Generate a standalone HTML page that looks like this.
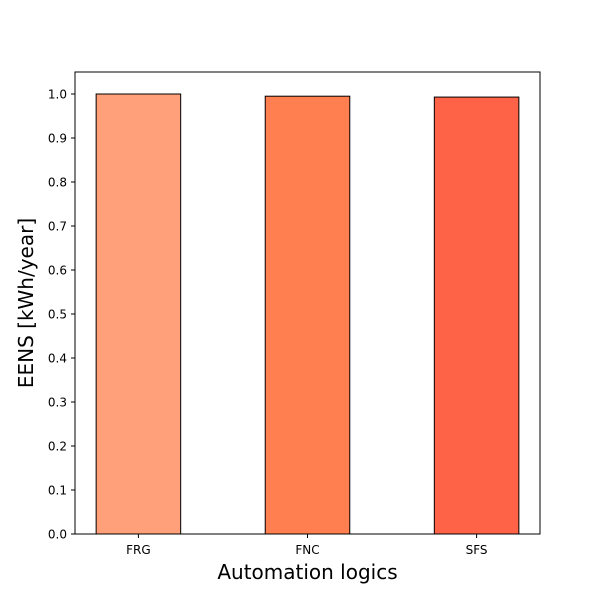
<!DOCTYPE html>
<html><head><meta charset="utf-8"><style>
html,body{margin:0;padding:0;background:#fff;}
svg{display:block;font-family:"DejaVu Sans","Liberation Sans",sans-serif;}
</style></head><body>
<svg id="chart" width="600" height="600" viewBox="0 0 600 600">
<rect x="0" y="0" width="600" height="600" fill="#fff"/>
<g id="bars"></g>
<g id="yticks"></g>
<g id="xticks"></g>
<rect x="75" y="72" width="465" height="462" fill="none" stroke="#000" stroke-width="1"/>
<text x="307.5" y="579" font-size="20" text-anchor="middle">Automation logics</text>
<text transform="translate(33,303) rotate(-90)" font-size="20" text-anchor="middle">EENS [kWh/year]</text>
</svg>
<script>
const categories = ["FRG", "FNC", "SFS"];
const values = [1.0, 0.995, 0.993];
const barColors = ["#FFA07A", "#FF7F50", "#FF6347"];
const yTicks = [0, 0.1, 0.2, 0.3, 0.4, 0.5, 0.6, 0.7, 0.8, 0.9, 1.0];

const X0 = 75, X1 = 540, Y0 = 534, Y1 = 72;
const xMin = -0.375, xMax = 2.375, yMin = 0, yMax = 1.05;
const xs = i => X0 + (i - xMin) / (xMax - xMin) * (X1 - X0);
const ys = v => Y0 - (v - yMin) / (yMax - yMin) * (Y0 - Y1);
const NS = "http://www.w3.org/2000/svg";
const bw = 0.5 * (X1 - X0) / (xMax - xMin);

const bars = document.getElementById("bars");
categories.forEach((c, i) => {
  const r = document.createElementNS(NS, "rect");
  r.setAttribute("x", xs(i) - bw / 2);
  r.setAttribute("y", ys(values[i]));
  r.setAttribute("width", bw);
  r.setAttribute("height", ys(0) - ys(values[i]));
  r.setAttribute("fill", barColors[i]);
  r.setAttribute("stroke", "#000");
  r.setAttribute("stroke-width", "1");
  
  
  bars.appendChild(r);
});

const yt = document.getElementById("yticks");
yTicks.forEach(v => {
  const l = document.createElementNS(NS, "line");
  l.setAttribute("x1", X0 - 4); l.setAttribute("x2", X0);
  l.setAttribute("y1", ys(v)); l.setAttribute("y2", ys(v));
  l.setAttribute("stroke", "#000");
  
  
  yt.appendChild(l);
  const t = document.createElementNS(NS, "text");
  t.setAttribute("x", X0 - 8); t.setAttribute("y", ys(v) + 4.5);
  t.setAttribute("font-size", "12"); t.setAttribute("text-anchor", "end");
  t.textContent = v.toFixed(1);
  
  
  yt.appendChild(t);
});

const xt = document.getElementById("xticks");
categories.forEach((c, i) => {
  const l = document.createElementNS(NS, "line");
  l.setAttribute("x1", xs(i)); l.setAttribute("x2", xs(i));
  l.setAttribute("y1", Y0); l.setAttribute("y2", Y0 + 4);
  l.setAttribute("stroke", "#000");
  
  
  xt.appendChild(l);
  const t = document.createElementNS(NS, "text");
  t.setAttribute("x", xs(i)); t.setAttribute("y", Y0 + 20);
  t.setAttribute("font-size", "12"); t.setAttribute("text-anchor", "middle");
  t.textContent = c;
  
  
  xt.appendChild(t);
});
</script>
</body></html>
